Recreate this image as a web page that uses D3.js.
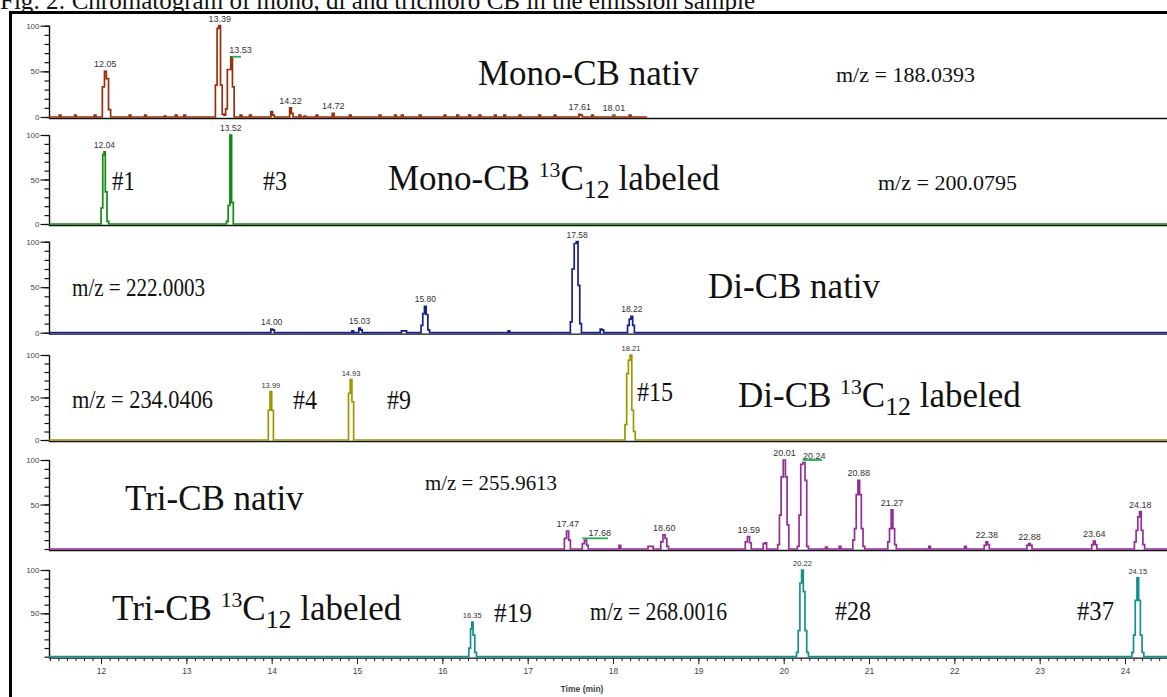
<!DOCTYPE html>
<html>
<head>
<meta charset="utf-8">
<script src="https://cdn.jsdelivr.net/npm/d3@7"></script>
<style>
  html, body { margin: 0; padding: 0; background: #fff; overflow: hidden; }
  svg { display: block; }
</style>
</head>
<body>
<svg id="chart" width="1167" height="697"></svg>
<script>
// ---- Data: retention time (min) vs. relative abundance (%) ----

const timeTicks = [12, 13, 14, 15, 16, 17, 18, 19, 20, 21, 22, 23, 24];

// Mono-CB native, m/z 188.0393 (recorded until ~18.4 min)
const monoNativTrace = [
  [11.39,0],[11.50,0],[11.52,2],[11.54,0],[11.68,0],[11.70,2],[11.72,0],[11.91,0],[11.93,2],[11.95,0],
  [12.00,0],[12.03,33],[12.05,50],[12.075,42],[12.10,8],[12.125,0],
  [12.32,0],[12.34,2],[12.36,0],[12.50,0],[12.52,2],[12.54,0],[12.73,0],[12.75,1],[12.77,0],
  [12.86,0],[12.88,2],[12.90,0],[12.96,0],[12.98,2],[13.00,0],
  [13.33,0],[13.35,35],[13.37,97],[13.39,100],[13.41,35],[13.43,3],[13.45,2],[13.47,9],
  [13.49,52],[13.51,52],[13.53,66],[13.55,33],[13.57,0],
  [13.62,0],[13.64,2],[13.66,0],[13.73,0],[13.75,2],[13.77,0],
  [13.98,0],[14.00,6],[14.02,2],[14.04,0],[14.20,0],[14.22,10],[14.24,4],[14.26,0],
  [14.31,0],[14.33,2],[14.35,0],[14.37,0],[14.39,1],[14.41,0],[14.51,0],[14.53,2],[14.55,0],
  [14.70,0],[14.72,4],[14.74,0],[14.90,0],[14.92,2],[14.94,0],[15.25,0],[15.27,2],[15.29,0],
  [15.43,0],[15.45,2],[15.47,0],[15.51,0],[15.53,2],[15.55,0],[15.72,0],[15.74,2],[15.76,0],
  [16.01,0],[16.03,2],[16.05,0],[16.16,0],[16.18,2],[16.20,0],[16.30,0],[16.32,2],[16.34,0],
  [16.42,0],[16.44,2],[16.46,0],[16.60,0],[16.62,2],[16.64,0],[16.71,0],[16.73,2],[16.75,0],
  [16.89,0],[16.91,2],[16.93,0],[17.12,0],[17.14,2],[17.16,0],[17.30,0],[17.32,2],[17.34,0],
  [17.59,0],[17.61,3],[17.63,2],[17.65,0],[17.74,0],[17.76,2],[17.78,0],
  [17.99,0],[18.01,2],[18.03,0],[18.18,0],[18.20,2],[18.22,0],[18.40,0]
];
const monoNativPeaks = [12.05, 13.39, 13.53, 14.22, 14.72, 17.61, 18.01];

// Mono-CB 13C12 labelled, m/z 200.0795
const monoLabeledTrace = [
  [11.39,0],[11.99,0],[12.01,18],[12.03,78],[12.04,81],[12.06,36],[12.08,3],[12.10,0],
  [13.46,0],[13.48,3],[13.50,21],[13.52,100],[13.54,24],[13.56,0],[24.60,0]
];
const monoLabeledPeaks = [12.04, 13.52];

// Di-CB native, m/z 222.0003
const diNativTrace = [
  [11.39,0],[13.98,0],[14.00,4],[14.02,3],[14.04,0],
  [14.93,0],[14.95,2],[14.97,0],[15.01,0],[15.03,5],[15.05,3],[15.07,0],
  [15.51,0],[15.53,2],[15.57,2],[15.59,0],
  [15.74,0],[15.76,8],[15.78,21],[15.80,29],[15.82,20],[15.84,3],[15.86,0],
  [16.76,0],[16.78,2],[16.80,0],
  [17.49,0],[17.51,12],[17.53,70],[17.56,98],[17.58,100],[17.60,52],[17.62,10],[17.64,0],
  [17.84,0],[17.86,4],[17.88,3],[17.90,0],
  [18.16,0],[18.18,8],[18.20,15],[18.22,18],[18.24,8],[18.26,0],[24.60,0]
];
const diNativPeaks = [14.00, 15.03, 15.80, 17.58, 18.22];

// Di-CB 13C12 labelled, m/z 234.0406
const diLabeledTrace = [
  [11.39,0],[13.95,0],[13.97,35],[13.99,57],[14.01,35],[14.03,0],
  [14.89,0],[14.91,55],[14.93,71],[14.95,45],[14.97,0],
  [18.13,0],[18.15,18],[18.17,78],[18.19,94],[18.21,100],[18.23,35],[18.25,10],[18.27,0],[24.60,0]
];
const diLabeledPeaks = [13.99, 14.93, 18.21];

// Tri-CB native, m/z 255.9613
const triNativTrace = [
  [11.39,0],[17.42,0],[17.44,12],[17.47,20],[17.49,10],[17.51,0],
  [17.63,0],[17.65,6],[17.68,10],[17.70,4],[17.72,0],
  [18.06,0],[18.08,4],[18.10,0],[18.40,0],[18.42,3],[18.46,3],[18.48,0],
  [18.55,0],[18.57,8],[18.60,16],[18.62,12],[18.64,3],[18.66,0],
  [19.54,0],[19.56,8],[19.59,14],[19.61,7],[19.63,0],
  [19.75,0],[19.77,6],[19.79,7],[19.81,0],
  [19.92,0],[19.94,5],[19.96,38],[19.98,81],[20.01,100],[20.03,81],[20.05,27],[20.07,0],
  [20.15,0],[20.17,3],[20.19,38],[20.21,95],[20.24,97],[20.26,77],[20.28,3],[20.30,0],
  [20.48,0],[20.50,2],[20.52,0],[20.64,0],[20.66,3],[20.68,0],
  [20.80,0],[20.82,10],[20.84,23],[20.86,61],[20.88,77],[20.90,61],[20.92,23],[20.94,3],[20.96,0],
  [21.21,0],[21.23,8],[21.25,23],[21.27,44],[21.29,23],[21.31,5],[21.33,0],
  [21.69,0],[21.71,3],[21.73,0],[22.11,0],[22.13,3],[22.15,0],
  [22.34,0],[22.36,4],[22.38,8],[22.40,5],[22.42,0],
  [22.84,0],[22.86,4],[22.88,6],[22.90,4],[22.92,0],
  [23.60,0],[23.62,5],[23.64,9],[23.66,5],[23.68,0],
  [24.10,0],[24.12,8],[24.14,21],[24.16,36],[24.18,42],[24.20,21],[24.22,5],[24.24,0],[24.60,0]
];
const triNativPeaks = [17.47, 17.68, 18.60, 19.59, 20.01, 20.24, 20.88, 21.27, 22.38, 22.88, 23.64, 24.18];

// Tri-CB 13C12 labelled, m/z 268.0016
const triLabeledTrace = [
  [11.39,0],[16.30,0],[16.32,10],[16.34,32],[16.35,40],[16.37,25],[16.39,5],[16.41,0],
  [20.14,0],[20.16,5],[20.18,30],[20.20,85],[20.22,100],[20.24,75],[20.26,30],[20.28,5],[20.30,0],
  [24.07,0],[24.09,5],[24.11,25],[24.13,65],[24.15,91],[24.17,65],[24.19,25],[24.21,5],[24.23,0],[24.60,0]
];
const triLabeledPeaks = [16.35, 20.22, 24.15];

// Integration markers: [panel, start time, end time, level %]
const markers = [
  [0, 13.53, 13.64, 66],
  [0, 18.00, 18.02, 2],
  [4, 17.64, 17.94, 12],
  [4, 20.22, 20.45, 100]
];

// ---- Layout ----
const svg = d3.select("#chart");
const serif = "'Liberation Serif', 'Times New Roman', serif";
const sans = "'Liberation Sans', Arial, sans-serif";

const x = d3.scaleLinear().domain([11.39, 24.6]).range([49, 49 + (24.6 - 11.39) * 85.33]);

const panels = [
  { trace: monoNativTrace,   peaks: monoNativPeaks,   color: "#9a2e0c", top: 25.7,  base: 117,   zero: true,  lab: 9 },
  { trace: monoLabeledTrace, peaks: monoLabeledPeaks, color: "#128a12", top: 135,   base: 224,   zero: true,  lab: 8.5 },
  { trace: diNativTrace,     peaks: diNativPeaks,     color: "#16208a", top: 241.7, base: 332.7, zero: true,  lab: 8.5 },
  { trace: diLabeledTrace,   peaks: diLabeledPeaks,   color: "#9c9600", top: 355,   base: 440,   zero: true,  lab: 7.5 },
  { trace: triNativTrace,    peaks: triNativPeaks,    color: "#962d96", top: 460,   base: 549,   zero: false, lab: 9 },
  { trace: triLabeledTrace,  peaks: triLabeledPeaks,  color: "#16908f", top: 570,   base: 656.7, zero: false, lab: 7.5 }
];

// label nudges (px) for crowded peak labels
const labelNudge = { "13.53": [9, 0], "17.68": [14, 0], "20.24": [10, 0] };

panels.forEach((p, i) => {
  const y = d3.scaleLinear().domain([0, 100]).range([p.base, p.top]);
  p.y = y;
  const g = svg.append("g");

  // time axis line of the panel
  g.append("line")
    .attr("x1", 49).attr("x2", 1167)
    .attr("y1", p.base + 1.5).attr("y2", p.base + 1.5)
    .attr("stroke", "#111").attr("stroke-width", 1.3);

  // intensity axis: minor then major ticks
  const minor = d3.axisLeft(y).tickValues(d3.range(0, 101, 10)).tickSize(5).tickFormat("");
  const major = d3.axisLeft(y).tickValues(p.zero ? [0, 50, 100] : [50, 100]).tickSize(9).tickPadding(1);
  const gm = g.append("g").attr("transform", "translate(49.5,0)").call(minor);
  gm.select(".domain").attr("stroke", "#111").attr("stroke-width", 1.4).attr("d", `M0,${p.base + 1.5}V${p.top}`);
  gm.selectAll(".tick line").attr("stroke", "#111").attr("stroke-width", 1.2);
  const gM = g.append("g").attr("transform", "translate(49.5,0)").call(major);
  gM.select(".domain").remove();
  gM.selectAll(".tick line").attr("stroke", "#111").attr("stroke-width", 1.2);
  gM.selectAll(".tick text").attr("font-family", sans).attr("font-size", 8).attr("fill", "#444");

  // chromatogram trace
  const line = d3.line().x(d => x(d[0])).y(d => y(d[1])).curve(d3.curveStep);
  g.append("path").datum(p.trace)
    .attr("d", line)
    .attr("fill", "none")
    .attr("stroke", p.color)
    .attr("stroke-width", 1.7)
    .attr("stroke-linejoin", "miter");

  // retention time labels at peak apexes
  p.peaks.forEach(rt => {
    const apex = d3.max(p.trace.filter(d => Math.abs(d[0] - rt) < 0.025), d => d[1]);
    const key = rt.toFixed(2);
    const nd = labelNudge[key] || [0, 0];
    g.append("text")
      .attr("x", x(rt) + nd[0])
      .attr("y", y(apex) - 4 + nd[1])
      .attr("text-anchor", "middle")
      .attr("font-family", sans)
      .attr("font-size", p.lab)
      .attr("fill", "#333")
      .text(key);
  });
});

// integration markers
markers.forEach(m => {
  const p = panels[m[0]];
  svg.append("line")
    .attr("x1", x(m[1])).attr("x2", x(m[2]))
    .attr("y1", p.y(m[3])).attr("y2", p.y(m[3]))
    .attr("stroke", "#22b24c").attr("stroke-width", 1.8);
});

// bottom time axis
const last = panels[5];
const xMinor = d3.axisBottom(x).tickValues(d3.range(114, 246, 1).map(v => v / 10)).tickSize(3).tickFormat("");
const xMajor = d3.axisBottom(x).tickValues(timeTicks).tickSize(6).tickPadding(4).tickFormat(d3.format("d"));
const gx1 = svg.append("g").attr("transform", `translate(0,${last.base + 1.5})`).call(xMinor);
gx1.select(".domain").remove();
gx1.selectAll(".tick line").attr("stroke", "#222");
const gx2 = svg.append("g").attr("transform", `translate(0,${last.base + 1.5})`).call(xMajor);
gx2.select(".domain").remove();
gx2.selectAll(".tick line").attr("stroke", "#222");
gx2.selectAll(".tick text").attr("font-family", sans).attr("font-size", 8.5).attr("fill", "#444");

svg.append("text").attr("x", 582).attr("y", 692).attr("text-anchor", "middle")
  .attr("font-family", sans).attr("font-size", 8.5).attr("font-weight", "bold").attr("fill", "#444")
  .text("Time (min)");

// ---- Annotations ----
function note(xp, yp, size, str, len) {
  const t = svg.append("text").attr("x", xp).attr("y", yp)
    .attr("font-family", serif).attr("font-size", size).attr("fill", "#111")
    .text(str);
  if (len) t.attr("textLength", len).attr("lengthAdjust", "spacingAndGlyphs");
  return t;
}
// "<prefix> 13C12 labeled" with isotope superscript and atom-count subscript
function labeled(xp, yp, prefix, size) {
  const t = svg.append("text").attr("x", xp).attr("y", yp)
    .attr("font-family", serif).attr("font-size", size).attr("fill", "#111");
  t.append("tspan").text(prefix + " ");
  t.append("tspan").text("13").attr("font-size", size * 0.62).attr("baseline-shift", size * 0.36);
  t.append("tspan").text("C");
  t.append("tspan").text("12").attr("font-size", size * 0.74).attr("baseline-shift", -size * 0.22);
  t.append("tspan").text(" labeled");
  return t;
}

// figure title
note(0, 9, 26, "Fig. 2: Chromatogram of mono, di and trichloro CB in the emission sample", 755);

note(478, 85, 35, "Mono-CB nativ");
note(836, 82, 20, "m/z = 188.0393", 139);

note(112, 190, 27, "#1", 23);
note(263, 190, 27, "#3", 24);
labeled(388, 190, "Mono-CB", 35);
note(878, 190, 20, "m/z = 200.0795", 139);

note(72, 296, 25, "m/z = 222.0003", 133);
note(708, 298, 35, "Di-CB nativ");

note(72, 408, 25, "m/z = 234.0406", 141);
note(293, 409, 27, "#4", 24);
note(387, 409, 27, "#9", 24);
note(637, 401, 27, "#15", 36);
labeled(738, 407, "Di-CB", 35);

note(125, 510, 35, "Tri-CB nativ");
note(425, 490, 22, "m/z = 255.9613", 132);

labeled(112, 620, "Tri-CB", 35);
note(494, 622, 27, "#19", 38);
note(590, 620, 25, "m/z = 268.0016", 137);
note(835, 620, 27, "#28", 36);
note(1077, 620, 27, "#37", 37);

// outer frame
svg.append("rect").attr("x", 10.5).attr("y", 12.5).attr("width", 1200).attr("height", 720)
  .attr("fill", "none").attr("stroke", "#000").attr("stroke-width", 3);
</script>
</body>
</html>
